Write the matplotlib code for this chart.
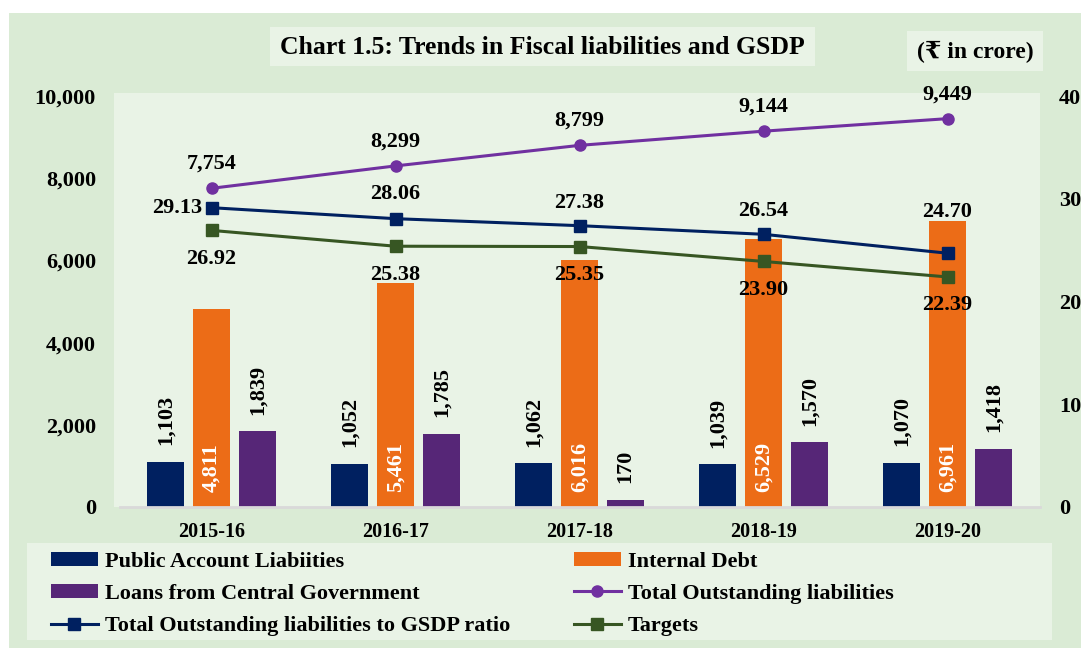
import matplotlib
matplotlib.use("Agg")
import matplotlib.pyplot as plt
from matplotlib.patches import Rectangle, Patch
from matplotlib.lines import Line2D
import numpy as np

plt.rcParams['font.family'] = ['Liberation Serif', 'DejaVu Serif', 'DejaVu Sans']
plt.rcParams['font.weight'] = 'bold'

# ---- data ----
years = ["2015-16", "2016-17", "2017-18", "2018-19", "2019-20"]
public_account = [1103, 1052, 1062, 1039, 1070]
internal_debt = [4811, 5461, 6016, 6529, 6961]
loans_central = [1839, 1785, 170, 1570, 1418]
total_outstanding = [7754, 8299, 8799, 9144, 9449]
ratio_gsdp = [29.13, 28.06, 27.38, 26.54, 24.70]
targets = [26.92, 25.38, 25.35, 23.90, 22.39]
left_ticks = [0, 2000, 4000, 6000, 8000, 10000]
right_ticks = [0, 10, 20, 30, 40]

# ---- styles ----
C_NAVY = '#002060'
C_ORANGE = '#EC6C17'
C_PURPLE = '#562677'
C_LINE_PURPLE = '#7030A0'
C_GREEN = '#375623'
BG = '#DAEBD5'
PANEL = '#E9F3E6'
FS = 16

W, H = 1081, 648
fig = plt.figure(figsize=(W / 100, H / 100), dpi=100)
fig.patch.set_facecolor('white')

def frect(x0, y0, x1, y1, color, z=0):
    fig.patches.append(Rectangle((x0 / W, 1 - y1 / H), (x1 - x0) / W, (y1 - y0) / H,
                                 transform=fig.transFigure, facecolor=color,
                                 edgecolor='none', zorder=z))

# background panels
frect(9, 13, 1081, 648, BG, z=-3)
frect(114, 93, 1040, 507, PANEL, z=-2)
frect(270, 27, 815, 66, PANEL, z=-2)
frect(907, 31, 1043, 71, PANEL, z=-2)
frect(27, 543, 1052, 640, PANEL, z=-2)

fig.text(542 / W, 1 - 47 / H, "Chart 1.5: Trends in Fiscal liabilities and GSDP",
         ha='center', va='center', fontsize=18.5, fontweight='bold')
fig.text(975 / W, 1 - 52 / H, "(\u20b9 in crore)", ha='center', va='center',
         fontsize=17, fontweight='bold')

ax_left, ax_right, ax_top, ax_bot = 119.5, 1039.5, 96, 507
ax = fig.add_axes([ax_left / W, 1 - ax_bot / H, (ax_right - ax_left) / W, (ax_bot - ax_top) / H])
ax.set_facecolor('none')
ax2 = ax.twinx()
ax2.set_facecolor('none')

x = np.arange(len(years))
bw = 0.2
off = 0.25
ax.bar(x - off, public_account, bw, color=C_NAVY, zorder=2)
ax.bar(x, internal_debt, bw, color=C_ORANGE, zorder=2)
ax.bar(x + off, loans_central, bw, color=C_PURPLE, zorder=2)

ax.set_xlim(-0.5, len(years) - 0.5)
ax.set_ylim(0, 10000)
ax2.set_ylim(0, 40)
ax.set_yticks(left_ticks)
ax.set_yticklabels([f"{v:,}" for v in left_ticks])
ax2.set_yticks(right_ticks)
ax2.set_yticklabels([str(v) for v in right_ticks])
ax.set_xticks(x)
ax.set_xticklabels(years)

for a in (ax, ax2):
    for s in a.spines.values():
        s.set_visible(False)
    a.tick_params(length=0, labelsize=FS)
ax.spines['bottom'].set_visible(True)
ax.spines['bottom'].set_color('#D9D9D9')
ax.spines['bottom'].set_linewidth(2)
ax.tick_params(axis='y', pad=17)
ax.tick_params(axis='x', pad=11, labelsize=14.5)
ax2.tick_params(axis='y', pad=14)

# bar labels
for xi, v in zip(x, public_account):
    ax.annotate(f"{v:,}", (xi - off, v), xytext=(0, 12), textcoords='offset points',
                rotation=90, ha='center', va='bottom', fontsize=FS, fontweight='bold')
for xi, v in zip(x, internal_debt):
    ax.annotate(f"{v:,}", (xi, 0), xytext=(0, 11), textcoords='offset points',
                rotation=90, ha='center', va='bottom', fontsize=FS, fontweight='bold',
                color='white')
for xi, v in zip(x, loans_central):
    ax.annotate(f"{v:,}", (xi + off, v), xytext=(0, 12), textcoords='offset points',
                rotation=90, ha='center', va='bottom', fontsize=FS, fontweight='bold')

# lines
ax.plot(x, total_outstanding, color=C_LINE_PURPLE, lw=2.2, marker='o', ms=8, zorder=4)
ax2.plot(x, ratio_gsdp, color=C_NAVY, lw=2.2, marker='s', ms=8, zorder=4)
ax2.plot(x, targets, color=C_GREEN, lw=2.2, marker='s', ms=8, zorder=4)

for xi, v in zip(x, total_outstanding):
    ax.annotate(f"{v:,}", (xi, v), xytext=(0, 14), textcoords='offset points',
                ha='center', va='baseline', fontsize=FS, fontweight='bold', zorder=6)

ratio_offsets = [None, 14, 13, 13, 26]
for i, (xi, v) in enumerate(zip(x, ratio_gsdp)):
    if ratio_offsets[i] is None:
        ax2.annotate(f"{v:.2f}", (xi, v), xytext=(-7, 0), textcoords='offset points',
                     ha='right', va='center', fontsize=FS, fontweight='bold', zorder=6)
    else:
        ax2.annotate(f"{v:.2f}", (xi, v), xytext=(0, ratio_offsets[i]), textcoords='offset points',
                     ha='center', va='baseline', fontsize=FS, fontweight='bold', zorder=6)
for xi, v in zip(x, targets):
    ax2.annotate(f"{v:.2f}", (xi, v), xytext=(0, -24), textcoords='offset points',
                 ha='center', va='baseline', fontsize=FS, fontweight='bold', zorder=6)

# legend
handles = [
    Patch(facecolor=C_NAVY), Patch(facecolor=C_PURPLE),
    Line2D([], [], color=C_NAVY, lw=2.2, marker='s', ms=8),
    Patch(facecolor=C_ORANGE),
    Line2D([], [], color=C_LINE_PURPLE, lw=2.2, marker='o', ms=8),
    Line2D([], [], color=C_GREEN, lw=2.2, marker='s', ms=8),
]
labels = ["Public Account Liabiities", "Loans from Central Government",
          "Total Outstanding liabilities to GSDP ratio",
          "Internal Debt", "Total Outstanding liabilities", "Targets"]
fig.legend(handles, labels, ncol=2, loc='upper left',
           bbox_to_anchor=(35 / W, 1 - 536 / H), frameon=False,
           fontsize=FS, handlelength=2.15, handleheight=0.6,
           handletextpad=0.3, columnspacing=2.85, labelspacing=0.55,
           borderpad=0.2)

fig.savefig("out.png", dpi=100, facecolor=fig.get_facecolor())
